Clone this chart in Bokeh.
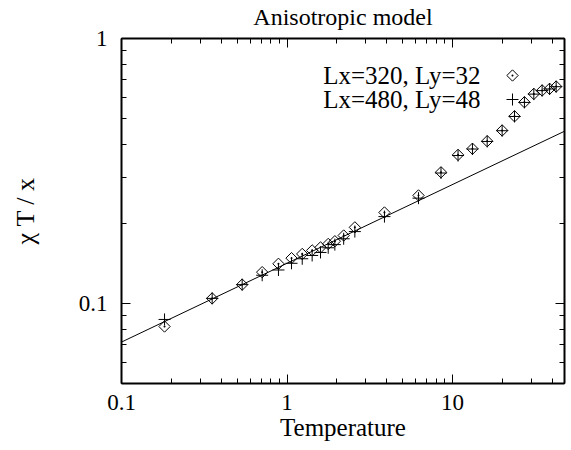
import numpy as np
from bokeh.plotting import figure
from bokeh.models import (LogAxis, FixedTicker, CustomJSTickFormatter, Label)
from bokeh.embed import file_html
from bokeh.resources import INLINE

# ---------------- data ----------------
temperature = [0.182, 0.353, 0.536, 0.708, 0.888, 1.065, 1.236, 1.419, 1.594,
               1.774, 1.946, 2.20, 2.57, 3.88, 6.23, 8.52, 10.8, 13.2, 16.2,
               19.95, 23.7, 27.2, 31.0, 34.8, 38.6, 42.3]
chi_320 = [0.082, 0.1047, 0.118, 0.1315, 0.1414, 0.1485, 0.154, 0.1588, 0.163,
           0.168, 0.172, 0.1808, 0.194, 0.2208, 0.256, 0.313, 0.364, 0.384,
           0.410, 0.450, 0.509, 0.575, 0.618, 0.637, 0.646, 0.659]
chi_480 = [0.0872, 0.1047, 0.118, 0.128, 0.134, 0.142, 0.1477, 0.152, 0.156,
           0.1625, 0.167, 0.1757, 0.187, 0.213, 0.250, 0.311, 0.362, 0.383,
           0.409, 0.449, 0.508, 0.574, 0.617, 0.636, 0.645, 0.658]
fit_amp = 0.142
fit_exp = 0.297
series_labels = ["Lx=320, Ly=32", "Lx=480, Ly=48"]
x_ticks = [0.1, 1, 10]
y_ticks = [0.1, 1]
title_text = "Anisotropic model"
x_label = "Temperature"
y_label = "χ T / x"

# ---------------- layout ----------------
X_LO, X_HI = 0.1, 47.5
Y_LO, Y_HI = 0.05, 1.0
W, H = 571, 450
FL, FR, FT, FB = 121, 564, 38, 383   # frame edges in px
FONT = "Liberation Serif"


def px_x(px):
    a, b = np.log10(X_LO), np.log10(X_HI)
    return 10 ** (a + (px - FL) / (FR - FL) * (b - a))


def px_y(py):
    a, b = np.log10(Y_LO), np.log10(Y_HI)
    return 10 ** (a + (FB - py) / (FB - FT) * (b - a))


p = figure(width=W, height=H, x_axis_type="log", y_axis_type="log",
           x_range=(X_LO, X_HI), y_range=(Y_LO, Y_HI),
           output_backend="svg", toolbar_location=None,
           min_border_left=FL, min_border_right=W - FR,
           min_border_top=FT, min_border_bottom=H - FB)
p.xgrid.visible = False
p.ygrid.visible = False
p.outline_line_color = "black"
p.outline_line_width = 1
p.background_fill_color = "white"
p.border_fill_color = "white"

x_minor = [0.2, 0.3, 0.4, 0.5, 0.6, 0.7, 0.8, 0.9,
           2, 3, 4, 5, 6, 7, 8, 9, 20, 30, 40]
y_minor = [0.05, 0.06, 0.07, 0.08, 0.09, 0.2, 0.3, 0.4, 0.5, 0.6, 0.7, 0.8, 0.9]

fmt = CustomJSTickFormatter(code="return String(Math.round(tick*1000)/1000);")
blank = CustomJSTickFormatter(code="return '';")


def style_axis(ax):
    ax.axis_line_width = 2
    ax.axis_line_color = "black"
    ax.major_tick_in = 9
    ax.major_tick_out = 0
    ax.minor_tick_in = 5
    ax.minor_tick_out = 0
    ax.major_tick_line_width = 1
    ax.minor_tick_line_width = 1
    ax.major_tick_line_color = "black"
    ax.minor_tick_line_color = "black"
    ax.major_label_text_font = FONT
    ax.major_label_text_font_size = "23px"
    ax.major_label_text_color = "black"
    ax.axis_label_text_font = FONT
    ax.axis_label_text_font_style = "normal"
    ax.axis_label_text_color = "black"


xt = FixedTicker(ticks=x_ticks, minor_ticks=x_minor)
yt = FixedTicker(ticks=y_ticks, minor_ticks=y_minor)

p.xaxis.ticker = xt
p.yaxis.ticker = yt
p.xaxis.formatter = fmt
p.yaxis.formatter = fmt
for ax in p.xaxis:
    style_axis(ax)
    ax.major_label_standoff = 11
    ax.axis_label = x_label
    ax.axis_label_text_font_size = "25px"
    ax.axis_label_standoff = 1
for ax in p.yaxis:
    style_axis(ax)
    ax.major_label_standoff = 14
    ax.axis_label = y_label
    ax.axis_label_text_font_size = "26px"
    ax.axis_label_standoff = 36

# mirrored axes (top carries the title as its label)
top = LogAxis(ticker=FixedTicker(ticks=x_ticks, minor_ticks=x_minor), formatter=blank)
style_axis(top)
top.major_label_text_font_size = "0px"
top.major_label_standoff = 0
top.axis_label = title_text
top.axis_label_text_font_size = "24px"
top.axis_label_standoff = 9
p.add_layout(top, "above")
right = LogAxis(ticker=FixedTicker(ticks=y_ticks, minor_ticks=y_minor), formatter=blank)
style_axis(right)
right.major_label_text_font_size = "0px"
right.major_label_standoff = 0
p.add_layout(right, "right")

# fit line
fx = np.array([X_LO, X_HI])
fy = fit_amp * fx ** fit_exp
p.line(fx, fy, line_color="black", line_width=1)

# data
p.scatter(temperature, chi_320, marker="square_dot", angle=np.pi / 4, size=8,
          fill_color=None, line_color="black", line_width=1)
p.scatter(temperature, chi_480, marker="cross", size=12,
          line_color="black", line_width=1)

# legend (gnuplot style: text then symbol)
p.add_layout(Label(x=px_x(480), y=px_y(75), text=series_labels[0],
                   text_align="right", text_baseline="middle",
                   text_font=FONT, text_font_size="25px", text_color="black"))
p.add_layout(Label(x=px_x(480), y=px_y(98.5), text=series_labels[1],
                   text_align="right", text_baseline="middle",
                   text_font=FONT, text_font_size="25px", text_color="black"))
p.scatter([px_x(512)], [px_y(75)], marker="square_dot", angle=np.pi / 4, size=8,
          fill_color=None, line_color="black", line_width=1)
p.scatter([px_x(512)], [px_y(99)], marker="cross", size=12,
          line_color="black", line_width=1)

open("out.html", "w").write(file_html(p, INLINE))
